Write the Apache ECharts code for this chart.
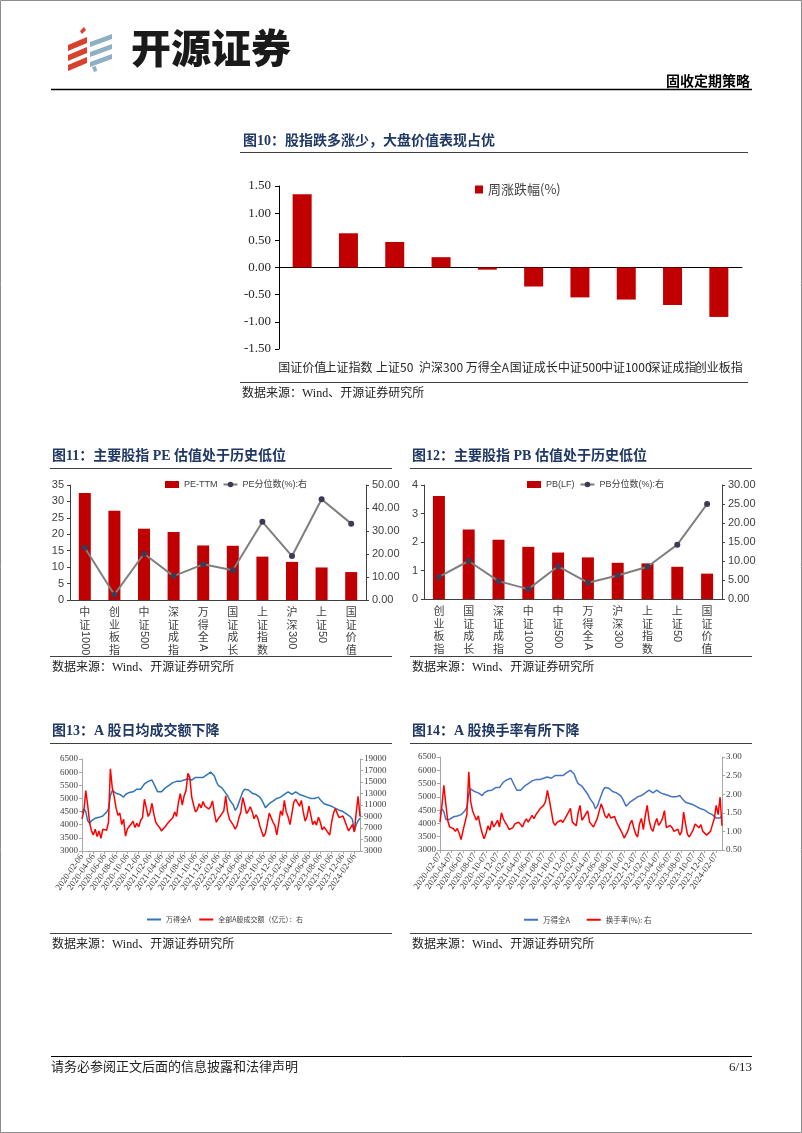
<!DOCTYPE html>
<html><head><meta charset="utf-8">
<script src="https://cdn.jsdelivr.net/npm/echarts@6/dist/echarts.min.js"></script>
<style>html,body{margin:0;padding:0;background:#fff}#c{width:802px;height:1133px}</style>
</head><body><div id="c"></div>
<script>
// ---------- DATA ----------
const fig10Categories = ['国证价值','上证指数','上证50','沪深300','万得全A','国证成长','中证500','中证1000','深证成指','创业板指'];
const fig10Weekly = [1.35,0.63,0.47,0.19,-0.04,-0.35,-0.55,-0.59,-0.69,-0.91];

const fig11Categories = ['中证1000','创业板指','中证500','深证成指','万得全A','国证成长','上证指数','沪深300','上证50','国证价值'];
const fig11PE = [32.6,27.2,21.7,20.7,16.6,16.5,13.2,11.6,9.9,8.5];
const fig11Pct = [22.7,2.3,20.1,10.4,15.5,12.9,34.0,19.1,43.8,33.2];

const fig12Categories = ['创业板指','国证成长','深证成指','中证1000','中证500','万得全A','沪深300','上证指数','上证50','国证价值'];
const fig12PB = [3.61,2.44,2.08,1.83,1.63,1.46,1.27,1.25,1.13,0.89];
const fig12Pct = [5.8,10.0,4.7,2.6,8.6,4.3,6.2,8.5,14.3,25.0];

const fig13TickLabels = ['2020-02-06','2020-04-06','2020-06-06','2020-08-06','2020-10-06','2020-12-06','2021-02-06','2021-04-06','2021-06-06','2021-08-06','2021-10-06','2021-12-06','2022-02-06','2022-04-06','2022-06-06','2022-08-06','2022-10-06','2022-12-06','2023-02-06','2023-04-06','2023-06-06','2023-08-06','2023-10-06','2023-12-06','2024-02-06'];
const fig14TickLabels = ['2020-02-07','2020-04-07','2020-06-07','2020-08-07','2020-10-07','2020-12-07','2021-02-07','2021-04-07','2021-06-07','2021-08-07','2021-10-07','2021-12-07','2022-02-07','2022-04-07','2022-06-07','2022-08-07','2022-10-07','2022-12-07','2023-02-07','2023-04-07','2023-06-07','2023-08-07','2023-10-07','2023-12-07','2024-02-07'];

const fig13Wind = [4450,4600,4500,4150,4050,4150,4200,4250,4220,4280,4300,4330,4400,4480,4600,5100,5300,5280,5200,5250,5150,5100,5050,5150,5200,5230,5300,5250,5300,5350,5300,5350,5450,5550,5600,5650,5680,5700,5760,5400,5250,5300,5250,5300,5400,5450,5500,5550,5600,5550,5650,5700,5650,5600,5700,5750,5750,5800,5700,5750,5800,5750,5800,5750,5800,5850,5900,5950,6000,5950,5850,5650,5500,5450,5400,5350,5200,5100,4950,4850,4750,4550,4650,4850,5050,5250,5350,5300,5320,5280,5200,5230,5150,5100,5050,4950,4800,4650,4700,4800,4850,4900,4950,5000,4950,5050,5100,5150,5200,5250,5200,5150,5200,5250,5200,5150,5200,5100,5100,5050,5050,5000,5050,5000,5000,5050,4950,4900,4800,4750,4750,4700,4700,4650,4620,4600,4550,4550,4500,4450,4400,4380,4300,4200,3750,4000,4150,4250];
const fig13Turnover = [8600,10000,13500,11000,8000,6500,5800,6800,5500,6500,5200,6800,7000,6600,8000,17300,14000,12500,10500,9200,9600,7600,8500,5600,6800,7300,7700,8200,7100,7800,7200,8300,8800,12000,10500,9000,9700,11300,9400,8000,7500,7100,6500,6600,7200,7700,8100,8200,8800,9800,9000,11500,13000,11000,12600,13500,16500,15800,12400,11000,9800,10200,11200,10500,11600,10800,10600,10300,10700,11700,9600,8000,8600,9000,9500,10000,12600,9800,8500,8700,7500,6800,7400,8800,9800,12300,11000,9500,10000,10700,9800,8600,9300,8700,7400,6400,5500,6100,7700,9600,9400,8000,7400,5800,7800,10000,9200,11800,9800,8900,7600,7800,11500,12000,12300,10800,11800,9800,8200,9000,10800,9200,7600,8200,7500,8900,8000,6700,7200,6900,6200,5800,8000,9600,10400,9500,8800,8500,9100,8200,7300,6500,6800,7600,6300,9700,12500,9000];

const fig14Wind = [4360,4550,4450,4150,4100,4150,4200,4250,4220,4280,4300,4330,4400,4480,4600,5100,5300,5280,5200,5250,5150,5100,5050,5150,5200,5230,5300,5250,5300,5350,5300,5350,5450,5550,5600,5650,5680,5700,5760,5400,5250,5300,5250,5300,5400,5450,5500,5550,5600,5550,5650,5700,5650,5600,5700,5750,5750,5800,5700,5750,5800,5750,5800,5750,5800,5850,5900,5950,6000,5950,5850,5650,5500,5450,5400,5350,5200,5100,4950,4850,4750,4550,4650,4850,5050,5250,5350,5300,5320,5280,5200,5230,5150,5100,5050,4950,4800,4650,4700,4800,4850,4900,4950,5000,4950,5050,5100,5150,5200,5250,5200,5150,5200,5250,5200,5150,5200,5100,5100,5050,5050,5000,5050,5000,5000,5050,4950,4900,4800,4750,4750,4700,4700,4650,4620,4600,4550,4550,4500,4450,4400,4380,4330,4300,4200,4150,4200,4300];
const fig14Rate = [1.25,1.70,2.24,1.75,1.30,1.12,1.15,1.07,1.00,1.08,0.95,0.78,1.02,1.02,1.45,2.60,1.80,1.55,1.60,1.30,1.42,1.15,0.95,0.80,0.95,1.15,1.03,1.28,1.12,1.20,1.30,1.12,1.50,1.34,1.24,1.16,1.05,1.00,1.10,1.20,1.15,1.25,1.20,1.12,1.25,1.34,1.25,1.30,1.43,1.34,1.45,1.52,1.60,1.55,1.70,1.80,2.10,1.85,1.55,1.25,1.16,1.24,1.20,1.30,1.24,1.33,1.38,1.52,1.62,1.25,1.20,1.15,1.50,1.70,1.30,1.38,1.33,1.55,1.25,1.30,1.12,1.10,1.35,1.40,1.74,1.60,1.42,1.36,1.48,1.36,1.32,1.40,1.25,1.15,1.05,0.95,0.82,0.80,1.02,1.20,1.30,1.10,0.93,0.85,1.20,1.35,1.05,1.42,1.70,1.30,1.08,1.00,1.20,1.35,1.16,1.24,1.35,1.56,1.10,1.05,1.16,1.10,1.00,0.98,1.06,0.90,1.00,1.52,1.20,0.92,0.85,0.80,1.05,1.20,1.25,1.10,1.18,1.00,1.05,0.90,0.85,1.00,0.95,1.35,1.70,1.45,1.92,1.15];

// ---------- STYLE HELPERS ----------
const CJK = '"Noto Sans CJK SC", sans-serif';
const SERIF = '"Liberation Serif", "Noto Sans CJK SC", serif';
const NARROW = '"Liberation Sans Narrow", "Liberation Sans", "Noto Sans CJK SC", sans-serif';
const BAR_RED = '#C00000';
const idx = (arr) => arr.map((_, i) => String(i));
const every6 = (i) => i % 6 === 0;
const splitLabel = (v) => { const m = v.match(/^([\u4e00-\u9fff]*)(.*)$/); return [m[1], m[2]]; };

function vertCatAxes(grid, cats) {
  return [
    { gridIndex: grid, type: 'category', data: cats, position: 'bottom',
      axisLine: { lineStyle: { color: '#404040', width: 1 } },
      axisTick: { length: 3, lineStyle: { color: '#404040' } },
      axisLabel: { interval: 0, margin: 6, fontSize: 11, lineHeight: 12.5, color: '#404040', fontFamily: CJK,
        formatter: (v) => splitLabel(v)[0].split('').join('\n') } },
    { gridIndex: grid, type: 'category', data: cats, position: 'bottom',
      axisLine: { show: false, onZero: false }, axisTick: { show: false },
      axisLabel: { interval: 0, margin: 6, rotate: -90, color: '#404040',
        formatter: (v) => { const p = splitLabel(v); return p[1] ? '{s' + p[0].length + '| }{d|' + p[1] + '}' : ''; },
        rich: { s2: { width: 25, fontSize: 11 }, s3: { width: 38, fontSize: 11 }, s4: { width: 50, fontSize: 11 },
                d: { fontSize: 11, fontFamily: NARROW, color: '#404040' } } } }
  ];
}
function valAxis(grid, pos, min, max, interval, fmt) {
  return { gridIndex: grid, type: 'value', position: pos, min, max, interval,
    axisLine: { show: true, lineStyle: { color: '#404040' } },
    axisTick: { show: true, length: 3, lineStyle: { color: '#404040' } },
    splitLine: { show: false },
    axisLabel: { fontSize: 11, color: '#404040', fontFamily: NARROW, margin: 6, formatter: fmt || ((v) => String(v)) } };
}
function timeXAxis(grid, n, ticks) {
  return { gridIndex: grid, type: 'category', data: idx(n), boundaryGap: false,
    axisLine: { lineStyle: { color: '#A6A6A6' } },
    axisTick: { interval: (i) => every6(i), length: 3, lineStyle: { color: '#A6A6A6' } },
    axisLabel: { interval: (i) => every6(i), rotate: 55, fontSize: 9, margin: 4, color: '#404040', fontFamily: SERIF,
      formatter: (v, i) => ticks[Math.round(Number(v) / 6)] } };
}
function timeYAxis(grid, pos, min, max, interval, fmt) {
  return { gridIndex: grid, type: 'value', position: pos, min, max, interval,
    axisLine: { show: true, lineStyle: { color: '#A6A6A6' } },
    axisTick: { show: true, length: 3, lineStyle: { color: '#A6A6A6' } },
    splitLine: { show: false },
    axisLabel: { fontSize: 9, color: '#404040', fontFamily: SERIF, margin: 4, formatter: fmt || ((v) => String(v)) } };
}

// ---------- GRAPHIC (page furniture) ----------
const TITLE = '#1F3864';
const text = (x, y, t, o) => ({ type: 'text', x, y, silent: true, style: Object.assign({ text: t, verticalAlign: 'middle', align: 'left', fill: '#000', fontSize: 12, fontFamily: CJK }, o || {}) });
const hline = (x1, x2, y, color, w) => ({ type: 'line', silent: true, shape: { x1, y1: y, x2, y2: y }, style: { stroke: color, lineWidth: w } });
const poly = (pts, fill) => ({ type: 'polygon', silent: true, shape: { points: pts }, style: { fill } });

const graphics = [
  { type: 'rect', silent: true, shape: { x: 0.5, y: 0.5, width: 801, height: 1132 }, style: { fill: 'none', stroke: '#8C8C8C', lineWidth: 1 } },
  // logo
  poly([[80,31],[84,27],[86,30],[82,34]], '#D9412F'),
  poly([[68,45],[87,37],[87,43],[68,51]], '#D9412F'),
  poly([[68,55],[87,47],[87,53],[68,61]], '#D9412F'),
  poly([[68,65],[87,57],[87,63],[68,71]], '#D9412F'),
  poly([[90,42],[112,34],[112,39],[90,47]], '#8FB0C3'),
  poly([[90,52],[112,44],[112,49],[90,57]], '#8FB0C3'),
  poly([[90,62],[112,54],[112,59],[90,67]], '#8FB0C3'),
  poly([[92,67],[96,66],[97,71],[94,72]], '#8FB0C3'),
  text(131, 48, '开源证券', { fontSize: 40, fontWeight: 900, fill: '#1A1A1A', fontFamily: CJK }),
  text(750, 81, '固收定期策略', { align: 'right', fontSize: 14, fontWeight: 'bold', fontFamily: CJK }),
  hline(51, 752, 89.5, '#000', 1.5),
  // fig10
  text(243, 141, '图10：股指跌多涨少，大盘价值表现占优', { fontSize: 14, fontWeight: 'bold', fill: TITLE, fontFamily: SERIF }),
  hline(240, 748, 152.5, '#404040', 1),
  hline(240, 748, 382.5, '#404040', 1),
  text(242, 394, '数据来源：Wind、开源证券研究所', { fontSize: 12, fontFamily: SERIF, fill: '#222' }),
  // fig11
  text(52, 456, '图11：主要股指 PE 估值处于历史低位', { fontSize: 14, fontWeight: 'bold', fill: TITLE, fontFamily: SERIF }),
  hline(50, 392, 468.5, '#404040', 1),
  hline(50, 392, 656.5, '#404040', 1),
  text(52, 668, '数据来源：Wind、开源证券研究所', { fontSize: 12, fontFamily: SERIF, fill: '#222' }),
  // fig12
  text(412, 456, '图12：主要股指 PB 估值处于历史低位', { fontSize: 14, fontWeight: 'bold', fill: TITLE, fontFamily: SERIF }),
  hline(410, 752, 468.5, '#404040', 1),
  hline(410, 752, 656.5, '#404040', 1),
  text(412, 668, '数据来源：Wind、开源证券研究所', { fontSize: 12, fontFamily: SERIF, fill: '#222' }),
  // fig13
  text(52, 731, '图13：A 股日均成交额下降', { fontSize: 14, fontWeight: 'bold', fill: TITLE, fontFamily: SERIF }),
  hline(50, 392, 743.5, '#404040', 1),
  hline(50, 392, 933.5, '#404040', 1),
  text(52, 945, '数据来源：Wind、开源证券研究所', { fontSize: 12, fontFamily: SERIF, fill: '#222' }),
  // fig14
  text(412, 731, '图14：A 股换手率有所下降', { fontSize: 14, fontWeight: 'bold', fill: TITLE, fontFamily: SERIF }),
  hline(410, 752, 743.5, '#404040', 1),
  hline(410, 752, 933.5, '#404040', 1),
  text(412, 945, '数据来源：Wind、开源证券研究所', { fontSize: 12, fontFamily: SERIF, fill: '#222' }),
  // footer
  hline(51, 752, 1056.5, '#000', 1),
  text(51, 1068, '请务必参阅正文后面的信息披露和法律声明', { fontSize: 13, fontFamily: SERIF, fill: '#222' }),
  text(752, 1068, '6/13', { align: 'right', fontSize: 13, fontFamily: SERIF, fill: '#222' })
];

const legendText = (size, fam) => ({ fontSize: size, color: '#404040', fontFamily: fam || CJK });

const option = {
  animation: false,
  textStyle: { fontFamily: CJK },
  grid: [
    { left: 279, top: 186, width: 463, height: 163 },
    { left: 70, top: 485, width: 296, height: 115 },
    { left: 424, top: 485, width: 298, height: 114 },
    { left: 82, top: 759, width: 278, height: 92 },
    { left: 440, top: 757, width: 282, height: 93 }
  ],
  xAxis: [
    { gridIndex: 0, type: 'category', data: fig10Categories, position: 'bottom',
      axisLine: { onZero: true, lineStyle: { color: '#000', width: 1 } },
      axisTick: { length: 4, lineStyle: { color: '#000' } }, axisLabel: { show: false } },
    { gridIndex: 0, type: 'category', data: fig10Categories, position: 'bottom',
      axisLine: { show: false, onZero: false }, axisTick: { show: false },
      axisLabel: { interval: 0, margin: 12, fontSize: 12, color: '#262626', fontFamily: CJK } },
    ...vertCatAxes(1, fig11Categories),
    ...vertCatAxes(2, fig12Categories),
    timeXAxis(3, fig13Wind, fig13TickLabels),
    timeXAxis(4, fig14Wind, fig14TickLabels)
  ],
  yAxis: [
    { gridIndex: 0, type: 'value', min: -1.5, max: 1.5, interval: 0.5,
      axisLine: { show: true, lineStyle: { color: '#000' } },
      axisTick: { show: true, length: 4, lineStyle: { color: '#000' } },
      splitLine: { show: false },
      axisLabel: { fontSize: 13, color: '#262626', fontFamily: SERIF, margin: 8, formatter: (v) => v.toFixed(2) } },
    valAxis(1, 'left', 0, 35, 5),
    valAxis(1, 'right', 0, 50, 10, (v) => v.toFixed(2)),
    valAxis(2, 'left', 0, 4, 1),
    valAxis(2, 'right', 0, 30, 5, (v) => v.toFixed(2)),
    timeYAxis(3, 'left', 3000, 6500, 500),
    timeYAxis(3, 'right', 3000, 19000, 2000),
    timeYAxis(4, 'left', 3000, 6500, 500),
    timeYAxis(4, 'right', 0.5, 3.0, 0.5, (v) => v.toFixed(2))
  ],
  legend: [
    { data: [{ name: '周涨跌幅(%)', icon: 'rect' }], left: 475, top: 183, itemWidth: 8, itemHeight: 8, itemGap: 4, textStyle: legendText(13), selectedMode: false, padding: 0 },
    { data: [{ name: 'PE-TTM', icon: 'rect' }, 'PE分位数(%):右'], left: 165, top: 480, itemWidth: 14, itemHeight: 7, itemGap: 5, textStyle: legendText(9, NARROW), selectedMode: false, padding: 0 },
    { data: [{ name: 'PB(LF)', icon: 'rect' }, 'PB分位数(%):右'], left: 527, top: 480, itemWidth: 14, itemHeight: 7, itemGap: 5, textStyle: legendText(9, NARROW), selectedMode: false, padding: 0 },
    { data: [{ name: '万得全A', icon: 'rect' }, { name: '全部A股成交额（亿元）：右', icon: 'rect' }], left: 147, top: 916, itemWidth: 14, itemHeight: 2, itemGap: 8, textStyle: legendText(7), selectedMode: false, padding: 0 },
    { data: [{ name: '万得全A ', icon: 'rect' }, { name: '换手率(%): 右', icon: 'rect' }], left: 524, top: 916, itemWidth: 14, itemHeight: 2, itemGap: 15, textStyle: legendText(7.5), selectedMode: false, padding: 0 }
  ],
  series: [
    { name: '周涨跌幅(%)', type: 'bar', xAxisIndex: 0, yAxisIndex: 0, data: fig10Weekly, barWidth: 19, itemStyle: { color: BAR_RED } },
    { name: 'PE-TTM', type: 'bar', xAxisIndex: 2, yAxisIndex: 1, data: fig11PE, barWidth: 12, itemStyle: { color: BAR_RED } },
    { name: 'PE分位数(%):右', type: 'line', xAxisIndex: 2, yAxisIndex: 2, data: fig11Pct, symbol: 'circle', symbolSize: 6,
      lineStyle: { color: '#7F7F7F', width: 2 }, itemStyle: { color: '#3B3B58' } },
    { name: 'PB(LF)', type: 'bar', xAxisIndex: 4, yAxisIndex: 3, data: fig12PB, barWidth: 12, itemStyle: { color: BAR_RED } },
    { name: 'PB分位数(%):右', type: 'line', xAxisIndex: 4, yAxisIndex: 4, data: fig12Pct, symbol: 'circle', symbolSize: 6,
      lineStyle: { color: '#7F7F7F', width: 2 }, itemStyle: { color: '#3B3B58' } },
    { name: '万得全A', type: 'line', xAxisIndex: 6, yAxisIndex: 5, data: fig13Wind, symbol: 'none',
      lineStyle: { color: '#2E75B6', width: 1.5 }, itemStyle: { color: '#2E75B6' } },
    { name: '全部A股成交额（亿元）：右', type: 'line', xAxisIndex: 6, yAxisIndex: 6, data: fig13Turnover, symbol: 'none',
      lineStyle: { color: '#FF0000', width: 1.5 }, itemStyle: { color: '#FF0000' } },
    { name: '万得全A ', type: 'line', xAxisIndex: 7, yAxisIndex: 7, data: fig14Wind, symbol: 'none',
      lineStyle: { color: '#4472C4', width: 1.5 }, itemStyle: { color: '#4472C4' } },
    { name: '换手率(%): 右', type: 'line', xAxisIndex: 7, yAxisIndex: 8, data: fig14Rate, symbol: 'none',
      lineStyle: { color: '#FF0000', width: 1.5 }, itemStyle: { color: '#FF0000' } }
  ],
  graphic: { elements: graphics }
};
const chart = echarts.init(document.getElementById('c'), null, { renderer: 'canvas' });
chart.setOption(option);
</script>
</body></html>
